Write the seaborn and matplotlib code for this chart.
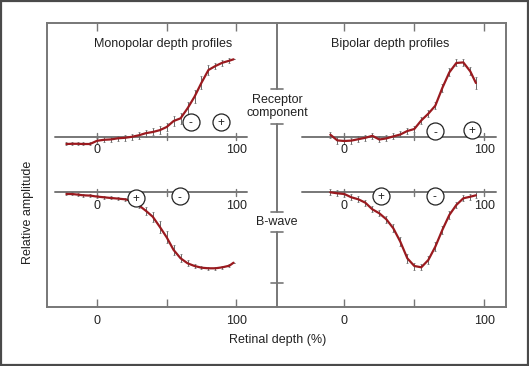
import numpy as np
import pandas as pd
import matplotlib
matplotlib.use("Agg")
import matplotlib.pyplot as plt
from matplotlib.patches import Rectangle
import seaborn as sns

# depth (%) and relative amplitude
mono_x = [-22, -18, -14, -10, -5, 0, 5, 10, 15, 20, 25, 30, 35, 40, 45, 50,
          55, 60, 65, 70, 75, 80, 85, 90, 95, 98]
mono_receptor = [-0.70, -0.68, -0.68, -0.70, -0.70, -0.38, -0.28, -0.24, -0.13,
                 -0.08, 0.02, 0.17, 0.38, 0.50, 0.68, 1.00, 1.60, 1.87, 2.87,
                 4.03, 5.43, 6.70, 7.10, 7.43, 7.63, 7.77]
mono_receptor_err = [0.15, 0.15, 0.15, 0.15, 0.15, 0.25, 0.25, 0.25, 0.25, 0.3,
                     0.3, 0.35, 0.35, 0.35, 0.4, 0.4, 0.5, 0.55, 0.6, 0.65,
                     0.65, 0.5, 0.3, 0.3, 0.25, 0.0]
mono_bwave = [-0.17, -0.17, -0.23, -0.30, -0.33, -0.43, -0.50, -0.57, -0.63,
              -0.70, -0.85, -1.30, -1.84, -2.44, -3.44, -4.50, -5.77, -6.60,
              -7.10, -7.37, -7.54, -7.60, -7.60, -7.50, -7.34, -7.04]
mono_bwave_err = [0.15, 0.15, 0.15, 0.15, 0.15, 0.15, 0.15, 0.15, 0.15, 0.15,
                  0.2, 0.3, 0.4, 0.5, 0.6, 0.6, 0.5, 0.4, 0.3, 0.2, 0.15,
                  0.15, 0.15, 0.15, 0.15, 0.0]

bi_x = [-10, -5, 0, 5, 10, 15, 20, 25, 30, 35, 40, 45, 50, 55, 60, 65, 70, 75,
        80, 85, 90, 94]
bi_receptor = [0.23, -0.34, -0.40, -0.36, -0.22, -0.08, 0.12, -0.25, -0.14,
               0.06, 0.25, 0.60, 0.80, 1.66, 2.33, 3.13, 4.90, 6.46, 7.40,
               7.46, 6.56, 5.40]
bi_receptor_err = [0.3, 0.35, 0.35, 0.3, 0.3, 0.3, 0.3, 0.3, 0.3, 0.3, 0.3,
                   0.3, 0.3, 0.35, 0.35, 0.35, 0.4, 0.4, 0.35, 0.35, 0.4, 0.6]
bi_bwave = [0.0, -0.10, -0.17, -0.50, -0.70, -1.04, -1.70, -2.10, -2.70, -3.60,
            -4.94, -6.60, -7.37, -7.50, -6.77, -5.44, -3.77, -2.27, -1.27,
            -0.60, -0.44, -0.30]
bi_bwave_err = [0.3, 0.3, 0.3, 0.3, 0.3, 0.3, 0.3, 0.3, 0.35, 0.4, 0.45, 0.45,
                0.35, 0.3, 0.4, 0.45, 0.45, 0.4, 0.35, 0.3, 0.3, 0.3]

tick_labels = ["0", "", "100"]

# (x, y, sign) markers on each profile
mono_signs_top = [(67.2, 1.5, "-"), (89, 1.5, "+")]
mono_signs_bot = [(27.8, -0.54, "+"), (59.4, -0.4, "-")]
bi_signs_top = [(64.8, 0.56, "-"), (91, 0.73, "+")]
bi_signs_bot = [(26, -0.34, "+"), (64.5, -0.34, "-")]

LOWER = -5.53      # baseline of the b-wave row
YLIM = (-16.97, 11.43)
LINE = "#9a1a1f"
GREY = "#777777"
INK = "#222222"

sns.set_style("white")
plt.rcParams["font.family"] = ["Liberation Sans", "DejaVu Sans"]
FS = 9

fig = plt.figure(figsize=(5.29, 3.66), dpi=100)
ax_l = fig.add_axes([47 / 529, 59.3 / 366, 230 / 529, 284 / 366])
ax_r = fig.add_axes([277 / 529, 59.3 / 366, 229 / 529, 284 / 366])


def profile(ax, x, y, err, offset):
    df = pd.DataFrame({"depth": x, "amp": np.array(y) + offset})
    ax.errorbar(df["depth"], df["amp"], yerr=err, fmt="none", ecolor="#6a6a6a",
                elinewidth=0.7, capsize=1.0, capthick=0.5, zorder=2)
    sns.lineplot(data=df, x="depth", y="amp", ax=ax, color=LINE, lw=1.6,
                 zorder=3, legend=False)


def baseline(ax, y0):
    ax.plot([-30, 108], [y0, y0], color=GREY, lw=1.4, zorder=1)
    for t, lab in zip([0, 50, 100], tick_labels):
        ax.plot([t, t], [y0 - 0.35, y0 + 0.35], color=GREY, lw=1.0, zorder=1)
        if lab:
            ax.text(t, y0 - 1.35, lab, ha="center", va="center", fontsize=FS,
                    color=INK)


def signs(ax, marks, offset):
    for sx, sy, s in marks:
        ax.scatter([sx], [sy + offset], s=150, facecolor="white",
                   edgecolor=INK, linewidth=0.9, zorder=4)
        ax.text(sx, sy + offset - 0.15, s, ha="center", va="center",
                fontsize=8.5, color=INK, zorder=5)


panels = [
    (ax_l, mono_x, mono_receptor, mono_receptor_err, mono_bwave, mono_bwave_err,
     mono_signs_top, mono_signs_bot, (-35.9, 129.2), "Monopolar depth profiles", 0.504),
    (ax_r, bi_x, bi_receptor, bi_receptor_err, bi_bwave, bi_bwave_err,
     bi_signs_top, bi_signs_bot, (-48.1, 115.5), "Bipolar depth profiles", 0.493),
]

for ax, x, rec, rec_e, bw, bw_e, s_top, s_bot, xl, title, tx in panels:
    baseline(ax, 0)
    baseline(ax, LOWER)
    profile(ax, x, rec, rec_e, 0)
    profile(ax, x, bw, bw_e, LOWER)
    signs(ax, s_top, 0)
    signs(ax, s_bot, LOWER)
    ax.set_xlim(*xl)
    ax.set_ylim(*YLIM)
    ax.set_xticks([0, 50, 100])
    ax.set_xticklabels(tick_labels)
    ax.set_yticks([])
    ax.set_xlabel("")
    ax.set_ylabel("")
    ax.tick_params(axis="x", direction="in", length=6, width=1.0, color=GREY,
                   top=True, bottom=True, labelsize=FS, pad=6, labelcolor=INK)
    ax.text(tx, 0.925, title, transform=ax.transAxes, ha="center",
            va="center", fontsize=FS, color=INK)
    for sp in ax.spines.values():
        sp.set_color(GREY)
        sp.set_linewidth(1.4)
    ax.patch.set_alpha(0)

ax_l.spines["right"].set_visible(False)
ax_r.spines["left"].set_visible(False)

# scale bar between the panels
bx = ax_r.get_xlim()[0]
segments = [(YLIM[1], 4.8), (1.3, -7.5), (-9.5, YLIM[0])]
for y1, y2 in segments:
    ax_r.plot([bx, bx], [y1, y2], color=GREY, lw=1.4, clip_on=False, zorder=1)
for cy in [4.8, 1.3, -7.5, -9.5, -14.6]:
    ax_r.plot([bx - 4, bx + 4], [cy, cy], color=GREY, lw=1.2, clip_on=False)

fig.text(277 / 529, 1 - 106.7 / 366, "Receptor\ncomponent", ha="center",
         va="center", fontsize=FS, color=INK, linespacing=1.1)
fig.text(277 / 529, 1 - 221.7 / 366, "B-wave", ha="center", va="center",
         fontsize=FS, color=INK)
fig.text(28 / 529, 1 - 212 / 366, "Relative amplitude", rotation=90,
         ha="center", va="center", fontsize=FS, color=INK)
fig.text(278 / 529, 1 - 340 / 366, "Retinal depth (%)", ha="center",
         va="center", fontsize=FS, color=INK)

fig.add_artist(Rectangle((0.002, 0.003), 0.996, 0.994, transform=fig.transFigure,
                         fill=False, edgecolor="#4a4a4a", linewidth=1.6))

fig.savefig("out.png", dpi=100)
